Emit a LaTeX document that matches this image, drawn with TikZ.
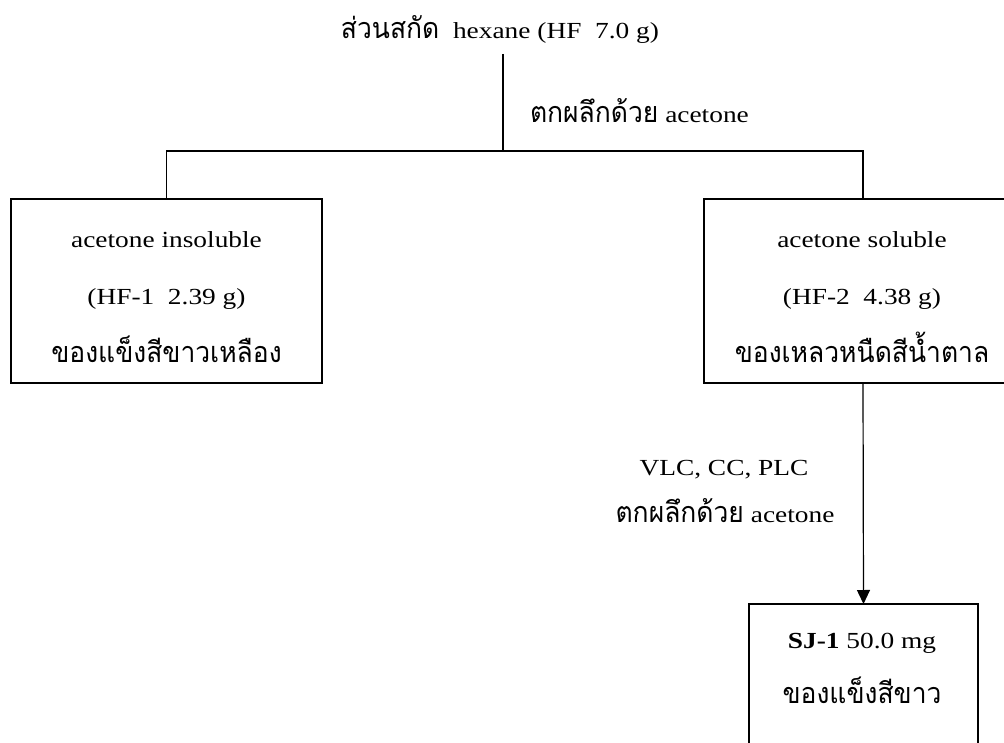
\documentclass[tikz,border=0pt]{standalone}
\usepackage{fontspec}
\setmainfont{Liberation Serif}[FakeStretch=1.19]
\newfontfamily\thai{Loma}[Script=Thai, Scale=1.25, FakeStretch=0.92]
\usetikzlibrary{arrows.meta}
\tikzset{
  every node/.style={inner sep=0pt, outer sep=0pt, font=\fontsize{23}{27}\selectfont},
  box/.style={draw, line width=1.2pt, minimum width=#1},
  lbl/.style={anchor=base},
  conn/.style={line width=1.2pt},
  arr/.style={line width=1.2pt, -{Triangle[width=13pt,length=14pt]}}
}
\begin{document}
\begin{tikzpicture}[x=1pt,y=-1pt]
\useasboundingbox (0,0) rectangle (1004,743);
\clip (0,0) rectangle (1004,743);
% title
\node[lbl] (title) at (500,39) {{\thai ส่วนสกัด}~ hexane (HF~ 7.0 g)};
\coordinate (split) at (503,151);
\coordinate (top) at (503,54);
\node[anchor=base west] (step1) at (530,123) {{\thai ตกผลึกด้วย} acetone};
% boxes
\node[box=311, minimum height=184] (ins) at (166.5,291) {};
\node[box=318, minimum height=184] (sol) at (863,291) {};
\node[box=229, minimum height=184] (sj) at (863.5,696) {};
% box texts
\node[lbl] (ins1) at (166.5,248) {acetone insoluble};
\node[lbl] (ins2) at (166.5,305) {(HF-1~ 2.39 g)};
\node[lbl] (ins3) at (166.5,362) {\thai ของแข็งสีขาวเหลือง};
\node[lbl] (sol1) at (862,248) {acetone soluble};
\node[lbl] (sol2) at (862,305) {(HF-2~ 4.38 g)};
\node[lbl] (sol3) at (862,362) {\thai ของเหลวหนืดสีน้ำตาล};
\node[lbl] (sj1) at (862,648) {\textbf{SJ-1} 50.0 mg};
\node[lbl] (sj2) at (862,703) {\thai ของแข็งสีขาว};
% step labels
\node[lbl] (step2a) at (724,475) {VLC, CC, PLC};
\node[lbl] (step2b) at (725,522) {{\thai ตกผลึกด้วย} acetone};
% connectors
\draw[conn] (top) -- (split);
\draw[conn] (ins.north) |- (split) -| (sol.north);
\draw[arr] (sol.south) -- (sj.north);
\end{tikzpicture}
\end{document}
